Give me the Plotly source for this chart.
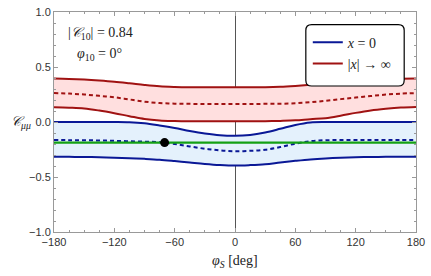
import plotly.graph_objects as go

phi = [-180, -165, -150, -135, -120, -105, -90, -75, -60, -45, -30, -15, 0,
       15, 30, 45, 60, 75, 90, 105, 120, 135, 150, 165, 180]

red_up = [0.395, 0.392, 0.386, 0.377, 0.366, 0.352, 0.337, 0.325, 0.319, 0.316, 0.315, 0.315, 0.315,
          0.315, 0.316, 0.320, 0.328, 0.338, 0.350, 0.362, 0.373, 0.383, 0.390, 0.394, 0.395]
red_mid = [0.263, 0.258, 0.250, 0.238, 0.225, 0.205, 0.185, 0.172, 0.167, 0.165, 0.164, 0.164, 0.164,
           0.164, 0.165, 0.166, 0.170, 0.180, 0.193, 0.208, 0.222, 0.236, 0.249, 0.258, 0.263]
red_lo = [0.134, 0.130, 0.123, 0.104, 0.080, 0.053, 0.027, 0.013, 0.008, 0.006, 0.006, 0.006, 0.006,
          0.006, 0.007, 0.010, 0.015, 0.026, 0.035, 0.057, 0.083, 0.105, 0.120, 0.131, 0.136]
blue_up = [0.0, 0.0, 0.0, 0.0, 0.0, -0.002, -0.012, -0.032, -0.055, -0.082, -0.105, -0.121, -0.126,
           -0.118, -0.095, -0.062, -0.027, -0.004, 0.0, 0.0, 0.0, 0.0, 0.0, 0.0, 0.0]
blue_mid = [-0.164, -0.165, -0.166, -0.168, -0.171, -0.175, -0.179, -0.183, -0.200, -0.222, -0.243, -0.258, -0.266,
            -0.262, -0.252, -0.228, -0.197, -0.174, -0.166, -0.164, -0.164, -0.164, -0.164, -0.164, -0.164]
blue_lo = [-0.316, -0.317, -0.318, -0.320, -0.324, -0.329, -0.335, -0.343, -0.355, -0.368, -0.381, -0.391, -0.396,
           -0.392, -0.384, -0.368, -0.353, -0.340, -0.331, -0.325, -0.321, -0.318, -0.317, -0.316, -0.316]
green_level = -0.187
dot_phi = [-70]
dot_val = [-0.187]

xtick_vals = [-180, -120, -60, 0, 60, 120, 180]
xtick_text = ["−180", "−120", "−60", "0", "60", "120", "180"]
ytick_vals = [-1.0, -0.5, 0.0, 0.5, 1.0]
ytick_text = ["−1.0", "−0.5", "0.0", "0.5", "1.0"]

RED = "#a01212"
BLUE = "#0a1896"
GREEN = "#14a014"
PINK = "#ffdfdf"
LBLUE = "#e4f1fc"

fig = go.Figure()
# fills
fig.add_trace(go.Scatter(x=phi, y=red_lo, mode="lines", line=dict(width=0, shape="spline"),
                         showlegend=False, hoverinfo="skip"))
fig.add_trace(go.Scatter(x=phi, y=red_up, mode="lines", line=dict(width=0, shape="spline"),
                         fill="tonexty", fillcolor=PINK, showlegend=False, hoverinfo="skip"))
fig.add_trace(go.Scatter(x=phi, y=blue_lo, mode="lines", line=dict(width=0, shape="spline"),
                         showlegend=False, hoverinfo="skip"))
fig.add_trace(go.Scatter(x=phi, y=blue_up, mode="lines", line=dict(width=0, shape="spline"),
                         fill="tonexty", fillcolor=LBLUE, showlegend=False, hoverinfo="skip"))
# lines
fig.add_trace(go.Scatter(x=phi, y=red_lo, mode="lines", line=dict(color=RED, width=2, shape="spline"),
                         showlegend=False))
fig.add_trace(go.Scatter(x=phi, y=red_mid, mode="lines",
                         line=dict(color=RED, width=2, shape="spline", dash="4px,3px"), showlegend=False))
fig.add_trace(go.Scatter(x=phi, y=blue_lo, mode="lines", line=dict(color=BLUE, width=2, shape="spline"),
                         showlegend=False))
fig.add_trace(go.Scatter(x=phi, y=blue_mid, mode="lines",
                         line=dict(color=BLUE, width=2, shape="spline", dash="4px,3px"), showlegend=False))
fig.add_trace(go.Scatter(x=[phi[0], phi[-1]], y=[green_level, green_level], mode="lines",
                         line=dict(color=GREEN, width=2.2), showlegend=False))
fig.add_trace(go.Scatter(x=phi, y=blue_up, mode="lines", line=dict(color=BLUE, width=2, shape="spline"),
                         name="<i>x</i> = 0", legendgroup="a", legendrank=1))
fig.add_trace(go.Scatter(x=phi, y=red_up, mode="lines", line=dict(color=RED, width=2, shape="spline"),
                         name="|<i>x</i>| → ∞", legendgroup="b", legendrank=2))
fig.add_trace(go.Scatter(x=dot_phi, y=dot_val, mode="markers",
                         marker=dict(color="black", size=9), showlegend=False))

W, H = 431, 276
ml, mr, mt, mb = 54, 9, 6, 44
pw, ph = W - ml - mr, H - mt - mb


def px2paper(x, y):
    return (x - ml) / pw, (H - mb - y) / ph


# rounded legend box
x0, y0 = px2paper(310, 82)
x1, y1 = px2paper(410, 19)
r = 6
rx, ry = r / pw, r / ph
path = (f"M {x0+rx},{y0} L {x1-rx},{y0} Q {x1},{y0} {x1},{y0+ry} L {x1},{y1-ry} "
        f"Q {x1},{y1} {x1-rx},{y1} L {x0+rx},{y1} Q {x0},{y1} {x0},{y1-ry} "
        f"L {x0},{y0+ry} Q {x0},{y0} {x0+rx},{y0} Z")
fig.add_shape(type="path", path=path, xref="paper", yref="paper",
              line=dict(color="black", width=1.2), fillcolor="white", layer="above")

lx, ly = px2paper(312, 21)

axis_common = dict(showgrid=False, showline=True, linecolor="#999", linewidth=1, mirror="allticks",
                   ticks="inside", ticklen=4, tickcolor="#999", ticklabeloverflow="allow",
                   tickfont=dict(family="Liberation Sans, Arial", size=11, color="#333"))

fig.update_layout(
    width=W, height=H,
    margin=dict(l=ml, r=mr, t=mt, b=mb),
    paper_bgcolor="white", plot_bgcolor="white",
    showlegend=True,
    legend=dict(x=lx, y=ly, xanchor="left", yanchor="top", bgcolor="rgba(0,0,0,0)",
                borderwidth=0, font=dict(family="Liberation Serif, Times New Roman", size=14, color="#222"),
                traceorder="normal", itemwidth=30, tracegroupgap=12),
    xaxis=dict(range=[-180, 180], tickvals=xtick_vals, ticktext=xtick_text,
               minor=dict(dtick=15, ticks="inside", ticklen=2, tickcolor="#999"),
               zeroline=True, zerolinecolor="#555", zerolinewidth=1, **axis_common),
    yaxis=dict(range=[-1.0, 1.0], tickvals=ytick_vals, ticktext=ytick_text,
               minor=dict(dtick=0.1, ticks="inside", ticklen=2, tickcolor="#999"),
               zeroline=False, **axis_common),
)

serif = dict(family="Liberation Serif, Times New Roman", size=14, color="#222")
ax, ay = px2paper(66, 28)
fig.add_annotation(x=ax, y=ay, xref="paper", yref="paper", xanchor="left", yanchor="middle",
                   text="|<i>𝒞</i><sub>10</sub>| = 0.84", showarrow=False, font=serif)
ax, ay = px2paper(75, 50)
fig.add_annotation(x=ax, y=ay, xref="paper", yref="paper", xanchor="left", yanchor="middle",
                   text="<i>φ</i><sub>10</sub> = 0°", showarrow=False, font=serif)
ax, ay = px2paper(20, 120)
fig.add_annotation(x=ax, y=ay, xref="paper", yref="paper", xanchor="center", yanchor="middle",
                   text="<i>𝒞</i><sub><i>μμ</i></sub>", showarrow=False, font=serif)
ax, ay = px2paper(238, 262)
fig.add_annotation(x=ax, y=ay, xref="paper", yref="paper", xanchor="center", yanchor="middle",
                   text="<i>φ</i><sub><i>S</i></sub> [deg]", showarrow=False, font=serif)

fig.write_html("out.html", config={"displayModeBar": False},
               post_script="document.body.style.margin='0';document.body.style.overflow='hidden';")
